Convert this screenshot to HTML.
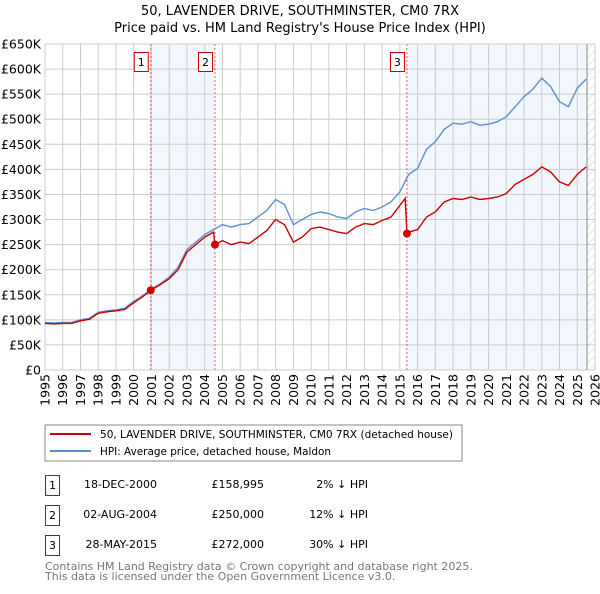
<!DOCTYPE html>
<html><head><meta charset="utf-8"><style>
body{margin:0;background:#fff;font-family:"DejaVu Sans","Liberation Sans",sans-serif;}
svg text{font-family:"DejaVu Sans","Liberation Sans",sans-serif;}
</style></head><body>
<svg id="c" width="600" height="590" xmlns="http://www.w3.org/2000/svg">
<defs><pattern id="hatch" width="6" height="6" patternUnits="userSpaceOnUse" patternTransform="rotate(45)"><line x1="0" y1="0" x2="0" y2="6" stroke="#ccc" stroke-width="1"/></pattern></defs>
<text x="300" y="15" text-anchor="middle" font-size="13">50, LAVENDER DRIVE, SOUTHMINSTER, CM0 7RX</text>
<text x="300" y="32" text-anchor="middle" font-size="13">Price paid vs. HM Land Registry's House Price Index (HPI)</text>
<g id="plot"></g>
<rect x="45" y="425" width="417" height="36" fill="#fff" stroke="#888"/>
<line x1="50" y1="434" x2="91" y2="434" stroke="#cc0000" stroke-width="2"/>
<text x="100" y="438" font-size="11" textLength="353" lengthAdjust="spacingAndGlyphs">50, LAVENDER DRIVE, SOUTHMINSTER, CM0 7RX (detached house)</text>
<line x1="50" y1="451" x2="91" y2="451" stroke="#5b8fd4" stroke-width="2"/>
<text x="100" y="455" font-size="11" textLength="231" lengthAdjust="spacingAndGlyphs">HPI: Average price, detached house, Maldon</text>
<g font-size="11">
<rect x="45.5" y="475.5" width="14" height="20" fill="#fff" stroke="#c00"/><text x="52.5" y="489" text-anchor="middle">1</text>
<text x="157" y="488" text-anchor="end">18-DEC-2000</text><text x="264" y="488" text-anchor="end">£158,995</text><text x="368" y="488" text-anchor="end">2% ↓ HPI</text>
<rect x="45.5" y="505.5" width="14" height="20" fill="#fff" stroke="#c00"/><text x="52.5" y="519" text-anchor="middle">2</text>
<text x="157" y="518" text-anchor="end">02-AUG-2004</text><text x="264" y="518" text-anchor="end">£250,000</text><text x="368" y="518" text-anchor="end">12% ↓ HPI</text>
<rect x="45.5" y="535.5" width="14" height="20" fill="#fff" stroke="#c00"/><text x="52.5" y="549" text-anchor="middle">3</text>
<text x="157" y="548" text-anchor="end">28-MAY-2015</text><text x="264" y="548" text-anchor="end">£272,000</text><text x="368" y="548" text-anchor="end">30% ↓ HPI</text>
</g>
<text x="45" y="570" font-size="11" fill="#777">Contains HM Land Registry data © Crown copyright and database right 2025.</text>
<text x="45" y="580" font-size="11" fill="#777">This data is licensed under the Open Government Licence v3.0.</text>
</svg>
<script>
const hpiYears=[1995,1995.5,1996,1996.5,1997,1997.5,1998,1998.5,1999,1999.5,2000,2000.5,2001,2001.5,2002,2002.5,2003,2003.5,2004,2004.5,2005,2005.5,2006,2006.5,2007,2007.5,2008,2008.5,2009,2009.5,2010,2010.5,2011,2011.5,2012,2012.5,2013,2013.5,2014,2014.5,2015,2015.5,2016,2016.5,2017,2017.5,2018,2018.5,2019,2019.5,2020,2020.5,2021,2021.5,2022,2022.5,2023,2023.5,2024,2024.5,2025,2025.5];
const hpiValues=[95,94,95,95,100,103,115,118,120,123,137,148,162,172,185,205,240,255,270,280,290,285,290,292,305,318,340,330,290,300,310,315,312,305,302,315,322,318,325,335,355,390,402,440,455,480,492,490,495,488,490,495,505,525,545,560,582,565,535,525,562,580];
const redYears=[1995,1995.5,1996,1996.5,1997,1997.5,1998,1998.5,1999,1999.5,2000,2000.5,2000.96,2001.5,2002,2002.5,2003,2003.5,2004,2004.5,2004.58,2005,2005.5,2006,2006.5,2007,2007.5,2008,2008.5,2009,2009.5,2010,2010.5,2011,2011.5,2012,2012.5,2013,2013.5,2014,2014.5,2015.3,2015.4,2015.5,2016,2016.5,2017,2017.5,2018,2018.5,2019,2019.5,2020,2020.5,2021,2021.5,2022,2022.5,2023,2023.5,2024,2024.5,2025,2025.5];
const redValues=[93,92,93,93,98,101,113,116,118,121,134,146,159,170,182,200,235,250,265,275,250,258,250,255,252,265,278,300,290,255,265,282,285,280,275,272,285,292,290,298,305,342,272,275,280,305,315,335,342,340,345,340,342,345,352,370,380,390,405,395,375,368,390,405];
const saleYears=[2000.96,2004.58,2015.4];
const salePrices=[158.995,250,272];
const saleLabels=["1","2","3"];
const yTicks=[0,50,100,150,200,250,300,350,400,450,500,550,600,650];
const yTickLabels=["£0","£50K","£100K","£150K","£200K","£250K","£300K","£350K","£400K","£450K","£500K","£550K","£600K","£650K"];
const xTicks=[1995,1996,1997,1998,1999,2000,2001,2002,2003,2004,2005,2006,2007,2008,2009,2010,2011,2012,2013,2014,2015,2016,2017,2018,2019,2020,2021,2022,2023,2024,2025,2026];

const X0=45,X1=595,Y0=370,Y1=44;
const xs=v=>X0+(v-1995)/(2026-1995)*(X1-X0);
const ys=v=>Y0-v/650*(Y0-Y1);
const NS="http://www.w3.org/2000/svg";
const g=document.getElementById('plot');
function mk(t,a,p){const e=document.createElementNS(NS,t);for(const k in a)e.setAttribute(k,a[k]);(p||g).appendChild(e);return e;}

let e;
e=mk('rect',{x:xs(saleYears[0]),y:Y1,width:xs(saleYears[1])-xs(saleYears[0]),height:Y0-Y1,fill:'#f2f6fd'});


e=mk('rect',{x:xs(saleYears[2]),y:Y1,width:xs(2025.55)-xs(saleYears[2]),height:Y0-Y1,fill:'#f2f6fd'});


e=mk('rect',{x:xs(2025.55),y:Y1,width:X1-xs(2025.55),height:Y0-Y1,fill:'url(#hatch)'});



yTicks.forEach((t,i)=>{
  e=mk('line',{x1:X0,x2:X1,y1:ys(t),y2:ys(t),stroke:'#ccc','stroke-width':1});
  
  
  e=mk('text',{x:41,y:ys(t)+4.5,'text-anchor':'end','font-size':12.5});
  e.textContent=yTickLabels[i];
  
  
});
xTicks.forEach(t=>{
  e=mk('line',{x1:xs(t),x2:xs(t),y1:Y1,y2:Y0,stroke:'#ccc','stroke-width':1});
  
  
  e=mk('text',{transform:`translate(${xs(t)+4.5},374) rotate(-90)`,'text-anchor':'end','font-size':12.5});
  e.textContent=t;
  
  
});
e=mk('line',{x1:xs(2025.55),x2:xs(2025.55),y1:Y1,y2:Y0,stroke:'#888'});



saleYears.forEach((s,i)=>{
  e=mk('line',{x1:xs(s),x2:xs(s),y1:Y1,y2:Y0,stroke:'#e06060','stroke-dasharray':'2,2'});
  
  
});

function pts(xa,va){return xa.map((x,i)=>xs(x).toFixed(1)+','+ys(va[i]).toFixed(1)).join(' ');}
e=mk('polyline',{points:pts(hpiYears,hpiValues),fill:'none',stroke:'#5b8fd4','stroke-width':1.4});


e=mk('polyline',{points:pts(redYears,redValues),fill:'none',stroke:'#cc0000','stroke-width':1.4});



saleYears.forEach((s,i)=>{
  e=mk('circle',{cx:xs(s),cy:ys(salePrices[i]),r:4,fill:'#cc0000'});
  
  
  const bx=xs(s)-3-14;
  e=mk('rect',{x:bx+0.5,y:52.5,width:14,height:19,fill:'#fff',stroke:'#c00'});
  
  
  e=mk('text',{x:bx+7.5,y:66,'text-anchor':'middle','font-size':11});
  e.textContent=saleLabels[i];
  
  
});
</script>
</body></html>
